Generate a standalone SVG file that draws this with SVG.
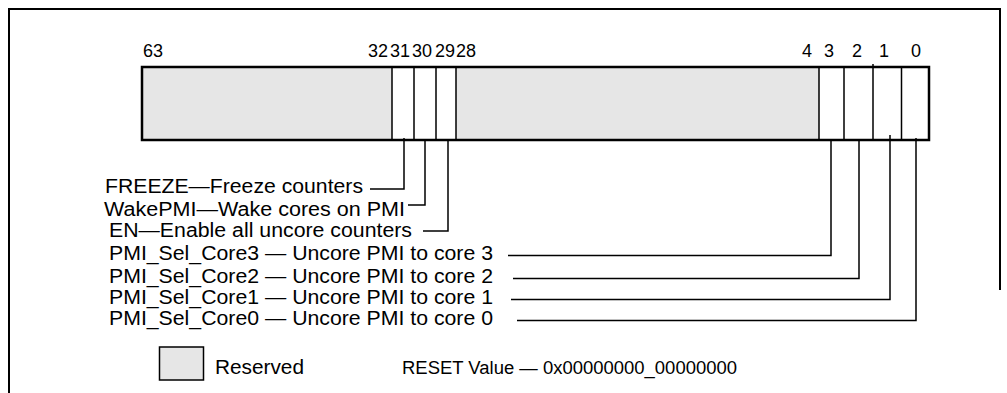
<svg xmlns="http://www.w3.org/2000/svg" width="1007" height="393" viewBox="0 0 1007 393">
<style>
text{font-family:"Liberation Sans",Arial,sans-serif;fill:#000}
.num{font-size:18px}
.lbl{font-size:20px}
.rst{font-size:18px}
.res{fill:#e6e6e6}
.thin{stroke:#000;stroke-width:1.5;fill:none}
.thick{stroke:#000;stroke-width:2.5;fill:none}
</style>
<g id="frame">
<path d="M9,393 V9 H1000 V290" fill="none" stroke="#000" stroke-width="2"/>
</g>
<g id="register">
<rect x="142" y="67" width="250" height="73" class="res"/>
<rect x="456" y="67" width="363" height="73" class="res"/>
<path class="thin" d="M392,67 V140 M414,67 V140 M436,67 V140 M456,67 V140 M819,67 V140 M844,67 V140 M873,64 V140 M901.5,67 V140"/>
<rect x="142" y="67" width="787" height="73" class="thick"/>
</g>
<g id="bits">
<text class="num" x="143" y="57">63</text>
<text class="num" x="368" y="57">32</text>
<text class="num" x="390" y="57">31</text>
<text class="num" x="412" y="57">30</text>
<text class="num" x="435" y="57">29</text>
<text class="num" x="456" y="57">28</text>
<text class="num" x="802" y="57">4</text>
<text class="num" x="824" y="57">3</text>
<text class="num" x="852" y="57">2</text>
<text class="num" x="879" y="57">1</text>
<text class="num" x="911" y="57">0</text>
</g>
<g id="connectors" class="thin">
<path d="M404,138 V189 H370"/>
<path d="M425,141 V205 H408"/>
<path d="M448,141 V231 H423"/>
<path d="M831,141 V255.5 H508"/>
<path d="M859,141 V278.5 H513"/>
<path d="M890,135 V299.5 H511"/>
<path d="M916,138 V320.5 H517"/>
</g>
<g id="freeze"><text class="lbl" x="105" y="193" textLength="258" lengthAdjust="spacingAndGlyphs">FREEZE—Freeze counters</text></g>
<g id="wakepmi"><text class="lbl" x="104" y="216" textLength="301" lengthAdjust="spacingAndGlyphs">WakePMI—Wake cores on PMI</text></g>
<g id="en"><text class="lbl" x="109" y="237" textLength="303" lengthAdjust="spacingAndGlyphs">EN—Enable all uncore counters</text></g>
<g id="core3"><text class="lbl" x="109" y="260" textLength="384" lengthAdjust="spacingAndGlyphs">PMI_Sel_Core3 — Uncore PMI to core 3</text></g>
<g id="core2"><text class="lbl" x="109" y="282.5" textLength="384" lengthAdjust="spacingAndGlyphs">PMI_Sel_Core2 — Uncore PMI to core 2</text></g>
<g id="core1"><text class="lbl" x="109" y="304" textLength="384" lengthAdjust="spacingAndGlyphs">PMI_Sel_Core1 — Uncore PMI to core 1</text></g>
<g id="core0"><text class="lbl" x="109" y="325" textLength="384" lengthAdjust="spacingAndGlyphs">PMI_Sel_Core0 — Uncore PMI to core 0</text></g>
<g id="legend">
<rect x="159.5" y="347" width="44" height="33" class="res" stroke="#000" stroke-width="1.5"/>
<text class="lbl" x="215" y="373.5" textLength="89" lengthAdjust="spacingAndGlyphs">Reserved</text>
</g>
<g id="reset"><text class="rst" x="402" y="373.5" textLength="335" lengthAdjust="spacingAndGlyphs">RESET Value — 0x00000000_00000000</text></g>
</svg>
